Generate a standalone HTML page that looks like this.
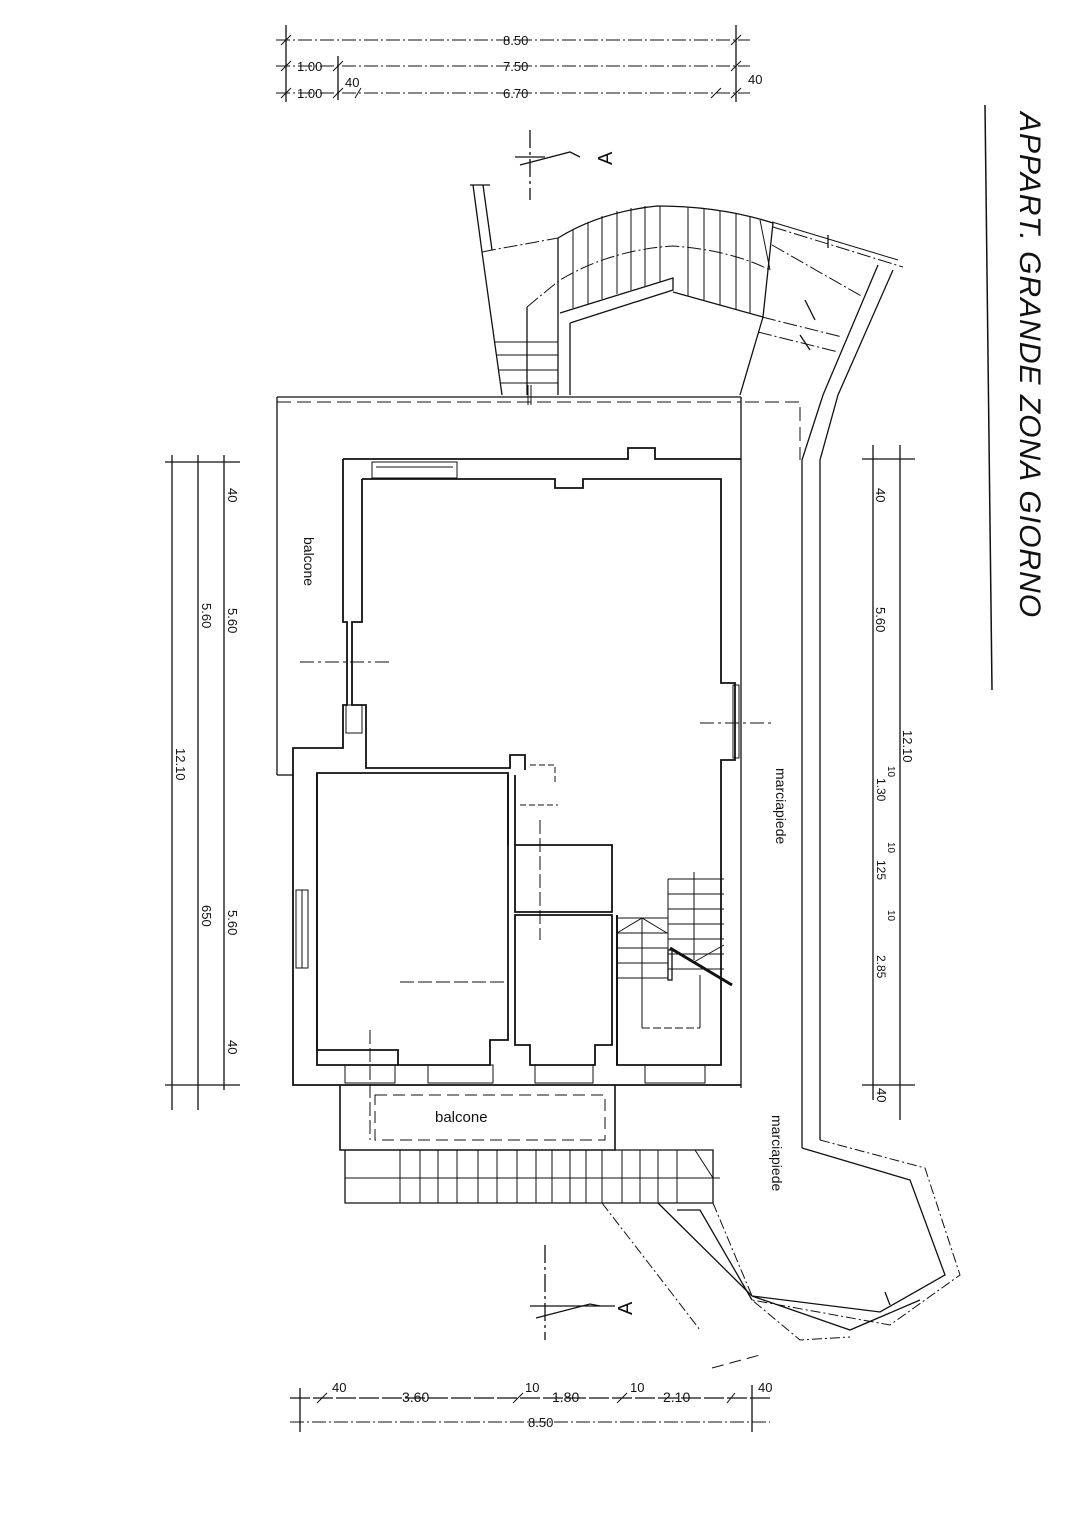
<!DOCTYPE html>
<html><head><meta charset="utf-8"><style>
html,body{margin:0;padding:0;background:#fff}
svg{display:block}
text{font-family:"Liberation Sans",sans-serif;fill:#111}
</style></head><body>
<svg width="1086" height="1536" viewBox="0 0 1086 1536" xmlns="http://www.w3.org/2000/svg">
<g stroke="#111" fill="none" stroke-width="1.3">

<!-- top dimensions -->
<g stroke-dasharray="14,3,2,3" stroke-width="1">
<line x1="276" y1="40" x2="750" y2="40"/>
<line x1="276" y1="66" x2="750" y2="66"/>
<line x1="276" y1="93" x2="750" y2="93"/>
</g>
<line x1="286" y1="25" x2="286" y2="102"/>
<line x1="736" y1="25" x2="736" y2="102"/>
<line x1="338" y1="56" x2="338" y2="100"/>
<g stroke-width="1">
<line x1="281" y1="45" x2="291" y2="35"/><line x1="731" y1="45" x2="741" y2="35"/>
<line x1="281" y1="71" x2="291" y2="61"/><line x1="333" y1="71" x2="343" y2="61"/><line x1="731" y1="71" x2="741" y2="61"/>
<line x1="281" y1="98" x2="291" y2="88"/><line x1="333" y1="98" x2="343" y2="88"/><line x1="355" y1="98" x2="361" y2="88"/><line x1="711" y1="98" x2="721" y2="88"/><line x1="731" y1="98" x2="741" y2="88"/>
</g>

<!-- title line -->
<line x1="985" y1="105" x2="992" y2="690" stroke-width="1.5"/>

<!-- section markers -->
<line x1="530" y1="130" x2="530" y2="200" stroke-dasharray="18,4,3,4"/>
<line x1="515" y1="157" x2="545" y2="157"/>
<path d="M520 165 L570 152 L580 157"/>
<line x1="545" y1="1245" x2="545" y2="1340" stroke-dasharray="18,4,3,4"/>
<line x1="530" y1="1306" x2="615" y2="1306"/>
<path d="M536 1318 L590 1304 L600 1306"/>

<!-- curved stair at top -->
<line x1="470" y1="185" x2="490" y2="185"/>
<path d="M473 185 L482 252 L502 395"/>
<path d="M483 185 L492 250"/>
<path d="M482 252 L492 250 L558 238" stroke-dasharray="14,3,2,3" stroke-width="1"/>
<path d="M558 238 Q600 212 657 206 Q720 206 773 223"/>
<path d="M527 307 Q545 292 560 280 Q610 250 673 246 Q730 250 770 270" stroke-dasharray="14,3,2,3" stroke-width="1"/>
<line x1="527" y1="307" x2="527" y2="395"/>
<line x1="558" y1="238" x2="558" y2="395"/>
<line x1="570" y1="323" x2="570" y2="395"/>
<path d="M570 323 L673 290 L673 278 L560 313"/>
<path d="M673 292 L763 317"/>
<path d="M773 223 L763 317 L740 395"/>
<g stroke-width="1">
<line x1="573" y1="230" x2="573" y2="308"/><line x1="588" y1="222" x2="588" y2="304"/>
<line x1="602" y1="216" x2="602" y2="299"/><line x1="617" y1="211" x2="617" y2="294"/>
<line x1="631" y1="208" x2="631" y2="290"/><line x1="645" y1="206" x2="645" y2="286"/>
<line x1="660" y1="206" x2="660" y2="282"/><line x1="688" y1="207" x2="688" y2="296"/>
<line x1="704" y1="209" x2="704" y2="300"/><line x1="720" y1="211" x2="720" y2="305"/>
<line x1="736" y1="214" x2="736" y2="309"/><line x1="750" y1="217" x2="750" y2="313"/>
<line x1="760" y1="220" x2="770" y2="270"/>
<line x1="495" y1="342" x2="558" y2="342"/><line x1="497" y1="355" x2="558" y2="355"/>
<line x1="499" y1="370" x2="558" y2="370"/><line x1="501" y1="383" x2="558" y2="383"/>
<line x1="528" y1="385" x2="528" y2="405"/><line x1="531" y1="385" x2="531" y2="405"/>
</g>
<g stroke-dasharray="14,3,2,3" stroke-width="1">
<path d="M773 227 L903 267"/>
<path d="M772 245 L863 297"/>
<path d="M762 317 L842 337"/>
<path d="M758 332 L838 352"/>
</g>
<line x1="772" y1="222" x2="898" y2="260" stroke-width="1"/>
<line x1="828" y1="235" x2="828" y2="248"/>
<line x1="805" y1="300" x2="815" y2="320"/>
<line x1="800" y1="335" x2="810" y2="350"/>
<path d="M893 270 L838 395 L820 460 L820 1140"/>
<path d="M878 265 L823 395 L802 460 L802 1148"/>

<!-- outer balcony boundary -->
<line x1="277" y1="397" x2="741" y2="397"/>
<line x1="277" y1="402" x2="741" y2="402" stroke-dasharray="14,6" stroke-width="1"/>
<line x1="277" y1="397" x2="277" y2="775"/>
<line x1="277" y1="775" x2="293" y2="775"/>
<line x1="741" y1="397" x2="741" y2="1088"/>
<path d="M745 402 L800 402 L800 460" stroke-dasharray="14,6" stroke-width="1"/>

<!-- main building walls -->
<g stroke-width="1.8">
<path d="M343 459 L628 459 L628 448 L655 448 L655 459 L741 459"/>
<path d="M343 459 L343 622 L347 622 L347 705 L343 705 L343 748 L293 748 L293 1085 L741 1085"/>
<path d="M362 479 L555 479 L555 488 L583 488 L583 479 L721 479 L721 683 L735 683 L735 760 L721 760 L721 1065 L617 1065 L617 915"/>
<path d="M362 479 L362 622 L352 622 L352 705 L366 705 L366 768 L510 768 L510 755 L525 755 L525 770"/>
<path d="M317 773 L508 773 L508 1040 L490 1040 L490 1065 L398 1065 L398 1050 L317 1050 Z"/>
<path d="M317 773 L317 1065 L398 1065"/>
<path d="M515 845 L612 845 L612 912 L515 912 Z"/>
<path d="M515 915 L612 915 L612 1045 L595 1045 L595 1065 L530 1065 L530 1045 L515 1045 Z"/>
<line x1="508" y1="775" x2="508" y2="845"/>
<line x1="515" y1="845" x2="515" y2="775"/>
<line x1="617" y1="915" x2="617" y2="1065"/>
</g>
<!-- windows -->
<g stroke-width="1">
<rect x="372" y="462" width="85" height="16"/>
<line x1="376" y1="467" x2="453" y2="467"/>
<rect x="296" y="890" width="12" height="78"/>
<line x1="302" y1="890" x2="302" y2="968"/>
<rect x="345" y="1065" width="50" height="18"/><rect x="535" y="1065" width="58" height="18"/>
<rect x="428" y="1065" width="65" height="18"/><rect x="645" y="1065" width="60" height="18"/>
<rect x="346" y="705" width="16" height="28"/>
<rect x="733" y="685" width="6" height="73"/>
<path d="M530 765 L555 765 L555 785" stroke-dasharray="6,3"/>
<line x1="520" y1="805" x2="558" y2="805" stroke-dasharray="6,3"/>
<line x1="540" y1="820" x2="540" y2="940" stroke-dasharray="14,4"/>
<line x1="400" y1="982" x2="505" y2="982" stroke-dasharray="14,4"/>
<line x1="370" y1="1030" x2="370" y2="1140" stroke-dasharray="14,4"/>
<line x1="300" y1="662" x2="390" y2="662" stroke-dasharray="14,4,3,4"/>
<line x1="700" y1="723" x2="775" y2="723" stroke-dasharray="14,4,3,4"/>
</g>
<!-- stair -->
<g stroke-width="1">
<path d="M668 879 L724 879"/><path d="M668 879 L668 980"/>
<line x1="668" y1="894" x2="724" y2="894"/><line x1="668" y1="909" x2="724" y2="909"/>
<line x1="668" y1="924" x2="724" y2="924"/><line x1="668" y1="939" x2="724" y2="939"/>
<line x1="668" y1="954" x2="724" y2="954"/><line x1="668" y1="969" x2="724" y2="969"/>
<line x1="617" y1="918" x2="668" y2="918"/><line x1="617" y1="933" x2="668" y2="933"/>
<line x1="617" y1="948" x2="668" y2="948"/><line x1="617" y1="963" x2="668" y2="963"/>
<line x1="617" y1="978" x2="668" y2="978"/>
<path d="M617 933 L642 918 L667 933"/>
<path d="M694 962 L724 945"/>
<line x1="642" y1="918" x2="642" y2="1028"/>
<line x1="700" y1="975" x2="700" y2="1028"/>
<line x1="642" y1="1028" x2="700" y2="1028" stroke-dasharray="8,3"/>
<line x1="694" y1="872" x2="694" y2="960"/>
</g>
<line x1="670" y1="948" x2="732" y2="985" stroke-width="3"/>
<rect x="668" y="950" width="4" height="30"/>

<!-- bottom balcony -->
<path d="M340 1085 L340 1150 L615 1150 L615 1085" stroke-width="1.6"/>
<rect x="375" y="1095" width="230" height="45" stroke-dasharray="12,6" stroke-width="1"/>
<path d="M345 1150 L345 1203 L713 1203 L713 1150 L615 1150"/>
<line x1="345" y1="1178" x2="720" y2="1178" stroke-width="1"/>
<g stroke-width="1">
<line x1="400" y1="1150" x2="400" y2="1203"/><line x1="420" y1="1150" x2="420" y2="1203"/>
<line x1="438" y1="1150" x2="438" y2="1203"/><line x1="457" y1="1150" x2="457" y2="1203"/>
<line x1="478" y1="1150" x2="478" y2="1203"/><line x1="497" y1="1150" x2="497" y2="1203"/>
<line x1="517" y1="1150" x2="517" y2="1203"/><line x1="536" y1="1150" x2="536" y2="1203"/>
<line x1="552" y1="1150" x2="552" y2="1203"/><line x1="570" y1="1150" x2="570" y2="1203"/>
<line x1="586" y1="1150" x2="586" y2="1203"/><line x1="602" y1="1150" x2="602" y2="1203"/>
<line x1="622" y1="1150" x2="622" y2="1203"/><line x1="640" y1="1150" x2="640" y2="1203"/>
<line x1="658" y1="1150" x2="658" y2="1203"/><line x1="677" y1="1150" x2="677" y2="1203"/>
<line x1="695" y1="1150" x2="713" y2="1178"/>
</g>
<path d="M602 1203 L650 1265 L700 1330" stroke-dasharray="10,3,2,3" stroke-width="1"/>
<path d="M658 1203 L752 1296"/>
<path d="M677 1210 L700 1210 L752 1300"/>
<path d="M713 1203 L752 1296" stroke-dasharray="10,3,2,3" stroke-width="1"/>
<path d="M802 1148 L910 1180 L945 1275 L880 1312 L752 1296 L850 1330 L920 1300"/>
<path d="M820 1140 L925 1168 L960 1275 L890 1325 L752 1300 L800 1340 L850 1337" stroke-dasharray="10,3,2,3" stroke-width="1"/>
<line x1="885" y1="1292" x2="890" y2="1305"/>
<path d="M712 1368 L760 1355" stroke-dasharray="12,6" stroke-width="1"/>

<!-- left dims -->
<line x1="172" y1="455" x2="172" y2="1110"/>
<line x1="198" y1="455" x2="198" y2="1110"/>
<line x1="224" y1="455" x2="224" y2="1090"/>
<line x1="165" y1="462" x2="240" y2="462"/>
<line x1="165" y1="1085" x2="240" y2="1085"/>
<!-- right dims -->
<line x1="873" y1="445" x2="873" y2="1100"/>
<line x1="900" y1="445" x2="900" y2="1120"/>
<line x1="862" y1="459" x2="915" y2="459"/>
<line x1="862" y1="1085" x2="915" y2="1085"/>
<!-- bottom dims -->
<line x1="290" y1="1398" x2="770" y2="1398" stroke-dasharray="20,3"/>
<line x1="290" y1="1422" x2="770" y2="1422" stroke-dasharray="14,3,2,3" stroke-width="1"/>
<line x1="300" y1="1388" x2="300" y2="1432"/>
<line x1="752" y1="1385" x2="752" y2="1432"/>
<g stroke-width="1">
<line x1="317" y1="1403" x2="327" y2="1393"/><line x1="513" y1="1403" x2="523" y2="1393"/>
<line x1="617" y1="1403" x2="627" y2="1393"/><line x1="727" y1="1403" x2="735" y2="1393"/>
</g>
</g>

<!-- texts -->
<g font-size="13">
<text x="503" y="45">8.50</text>
<text x="297" y="71">1.00</text><text x="503" y="71">7.50</text>
<text x="297" y="98">1.00</text><text x="345" y="87">40</text><text x="503" y="98">6.70</text>
<text x="748" y="84">40</text>
<text x="332" y="1392">40</text><text x="402" y="1402" font-size="14">3.60</text>
<text x="525" y="1392">10</text><text x="552" y="1402" font-size="14">1.80</text>
<text x="630" y="1392">10</text><text x="663" y="1402" font-size="14">2.10</text>
<text x="758" y="1392">40</text>
<text x="528" y="1427">8.50</text>
</g>
<g font-size="13">
<text transform="translate(228,488) rotate(90)">40</text>
<text transform="translate(228,608) rotate(90)">5.60</text>
<text transform="translate(228,910) rotate(90)">5.60</text>
<text transform="translate(228,1040) rotate(90)">40</text>
<text transform="translate(202,603) rotate(90)">5.60</text>
<text transform="translate(202,905) rotate(90)">650</text>
<text transform="translate(176,748) rotate(90)">12.10</text>
<text transform="translate(876,488) rotate(90)">40</text>
<text transform="translate(876,607) rotate(90)">5.60</text>
<text transform="translate(903,730) rotate(90)">12.10</text>
<text transform="translate(877,778) rotate(90)" font-size="12">1.30</text>
<text transform="translate(877,860) rotate(90)" font-size="12">125</text>
<text transform="translate(877,955) rotate(90)" font-size="12">2.85</text>
<text transform="translate(877,1088) rotate(90)">40</text>
<text transform="translate(888,766) rotate(90)" font-size="10">10</text>
<text transform="translate(888,842) rotate(90)" font-size="10">10</text>
<text transform="translate(888,910) rotate(90)" font-size="10">10</text>
</g>
<g font-size="14">
<text transform="translate(304,537) rotate(90)">balcone</text>
<text x="435" y="1122" font-size="15">balcone</text>
<text transform="translate(776,768) rotate(90)">marciapiede</text>
<text transform="translate(772,1115) rotate(90)">marciapiede</text>
</g>
<text transform="translate(612,165) rotate(-90)" font-size="20">A</text>
<text transform="translate(632,1315) rotate(-90)" font-size="20">A</text>
<text transform="translate(1020,112) rotate(90)" font-size="30" font-style="italic" letter-spacing="1">APPART. GRANDE ZONA GIORNO</text>
</svg>
</body></html>
